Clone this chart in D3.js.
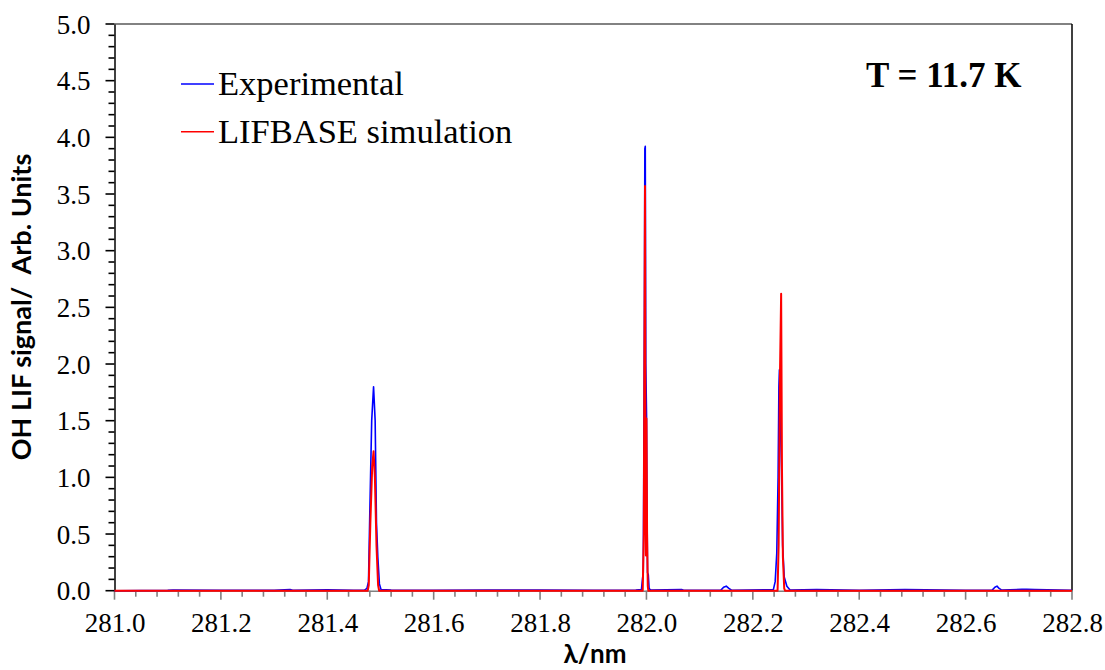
<!DOCTYPE html>
<html lang="en">
  <head>
    <meta charset="UTF-8" />
    <title>OH LIF spectrum</title>
    <script src="https://d3js.org/d3.v7.min.js"></script>
    <style>
      body {
        margin: 0;
        background-color: #fff;
      }

      svg {
        display: block;
      }

      .legend-text {
        font-family: "Liberation Serif", "Times New Roman", serif;
        font-size: 34.5px;
        fill: #000;
      }

      .temp-text {
        font-family: "Liberation Serif", "Times New Roman", serif;
        font-size: 35px;
        font-weight: bold;
        fill: #000;
      }

      .axis-title {
        font-family: Lato, "Open Sans", sans-serif;
        font-weight: bold;
        fill: #000;
        white-space: pre;
      }
    </style>
  </head>
  <body>
    <svg id="chart" width="1105" height="670"></svg>

    <script>
      // Experimental spectrum (wavelength in nm, signal)
      const expWl = [
        281.0, 281.1, 281.11, 281.2, 281.3, 281.33, 281.335, 281.4, 281.45,
        281.47, 281.4745, 281.4775, 281.48, 281.4835, 281.487, 281.49,
        281.4925, 281.495, 281.498, 281.501, 281.52, 281.6, 281.7, 281.8,
        281.9, 281.98, 281.9906, 281.9925, 281.994, 281.9948, 281.9962,
        281.997, 281.9978, 281.9988, 282.0002, 282.001, 282.002, 282.0035,
        282.005, 282.008, 282.066, 282.07, 282.14, 282.145, 282.15, 282.155,
        282.16, 282.2386, 282.242, 282.245, 282.2475, 282.249, 282.25,
        282.2518, 282.254, 282.256, 282.259, 282.264, 282.27, 282.32, 282.4,
        282.486, 282.6, 282.65, 282.655, 282.659, 282.663, 282.668, 282.706,
        282.715, 282.73, 282.8,
      ];
      const expSignal = [
        0, 0.003, 0.005, 0.004, 0.003, 0.01, 0.003, 0.008, 0.004, 0.005,
        0.02, 0.08, 0.7, 1.5, 1.8, 1.5, 0.6, 0.3, 0.06, 0.01, 0.005, 0.004,
        0.006, 0.005, 0.004, 0.005, 0.01, 0.1, 0.16, 0.9, 2.5, 3.9, 3.92, 2.0,
        1.54, 0.8, 0.16, 0.14, 0.02, 0.005, 0.01, 0.004, 0.005, 0.03, 0.04,
        0.02, 0.004, 0.01, 0.08, 0.33, 1.0, 1.8, 1.95, 1.5, 1.07, 0.4, 0.12,
        0.04, 0.006, 0.01, 0.004, 0.01, 0.004, 0.005, 0.03, 0.04, 0.02, 0.005,
        0.012, 0.012, 0.01, 0.004,
      ];

      // LIFBASE simulation
      const simWl = [
        281.0, 281.476, 281.478, 281.481, 281.4845, 281.487, 281.4895,
        281.4925, 281.4955, 281.4975, 281.993, 281.995, 281.9965, 281.9973,
        281.9982, 281.999, 282.0, 282.0012, 282.0025, 282.0035, 282.2465,
        282.2485, 282.251, 282.2532, 282.2548, 282.2565, 282.259, 282.2605,
        282.8,
      ];
      const simSignal = [
        0, 0, 0.05, 0.6, 1.1, 1.23, 1.0, 0.4, 0.05, 0, 0, 0.5, 2.5, 3.57, 1.0,
        0.31, 1.52, 0.5, 0.04, 0, 0, 0.4, 1.9, 2.62, 1.07, 0.3, 0.02, 0, 0,
      ];

      const xTicks = [281.0, 281.2, 281.4, 281.6, 281.8, 282.0, 282.2, 282.4, 282.6, 282.8];
      const yTicks = [0, 0.5, 1.0, 1.5, 2.0, 2.5, 3.0, 3.5, 4.0, 4.5, 5.0];

      const seriesNames = ["Experimental", "LIFBASE simulation"];
      const seriesColors = ["#0000ff", "#ff0000"];

      const plotLeft = 114.5,
        plotRight = 1072,
        plotTop = 24,
        plotBottom = 590.7;

      const svg = d3.select("#chart");

      const x = d3.scaleLinear().domain([281.0, 282.8]).range([plotLeft, plotRight]);
      const y = d3.scaleLinear().domain([0, 5]).range([plotBottom, plotTop]);

      // cadre : haut et droite
      svg
        .append("line")
        .attr("x1", plotLeft)
        .attr("x2", plotRight)
        .attr("y1", plotTop)
        .attr("y2", plotTop)
        .style("stroke", "#595959")
        .style("stroke-width", 1.5);
      svg
        .append("line")
        .attr("x1", plotRight)
        .attr("x2", plotRight)
        .attr("y1", plotTop)
        .attr("y2", plotBottom)
        .style("stroke", "#000")
        .style("stroke-width", 1.5);

      // graduations : mineures 0.04 (x) et 0.1 (y), majeures 0.2 et 0.5
      const xMinor = d3.range(0, 46).map((i) => 281.0 + i * 0.04);
      const yMinor = d3.range(0, 51).map((i) => i * 0.1);

      svg
        .selectAll(".xtick")
        .data(xMinor)
        .enter()
        .append("line")
        .attr("class", "xtick")
        .attr("x1", (d) => x(d))
        .attr("x2", (d) => x(d))
        .attr("y1", plotBottom)
        .attr("y2", (d, i) => plotBottom + (i % 5 === 0 ? 9 : 6))
        .style("stroke", "#808080")
        .style("stroke-width", 1.6);

      svg
        .selectAll(".ytick")
        .data(yMinor)
        .enter()
        .append("line")
        .attr("class", "ytick")
        .attr("x1", (d, i) => plotLeft - (i % 5 === 0 ? 9 : 6))
        .attr("x2", plotLeft)
        .attr("y1", (d) => y(d))
        .attr("y2", (d) => y(d))
        .style("stroke", "#000")
        .style("stroke-width", 1.6);

      // axes (domaine + étiquettes)
      const gx = svg
        .append("g")
        .attr("transform", `translate(0,${plotBottom})`)
        .call(
          d3
            .axisBottom(x)
            .tickValues(xTicks)
            .tickSize(0)
            .tickPadding(22)
            .tickFormat(d3.format(".1f"))
        );
      gx.select(".domain").style("stroke", "#808080").style("stroke-width", 1.5);
      gx.selectAll("text")
        .attr("dy", "0.71em")
        .style("font-family", "Liberation Serif")
        .style("font-size", "27px")
        .style("fill", "#000");

      const gy = svg
        .append("g")
        .attr("transform", `translate(${plotLeft},0)`)
        .call(
          d3
            .axisLeft(y)
            .tickValues(yTicks)
            .tickSize(0)
            .tickPadding(24)
            .tickFormat(d3.format(".1f"))
        );
      gy.select(".domain").style("stroke", "#000").style("stroke-width", 1.5);
      gy.selectAll("text")
        .attr("dy", "0.34em")
        .style("font-family", "Liberation Serif")
        .style("font-size", "27px")
        .style("fill", "#000");

      // courbes
      const lineGen = d3
        .line()
        .x((d) => x(d[0]))
        .y((d) => y(d[1]));

      const expData = expWl.map((w, i) => [w, expSignal[i]]);
      const simData = simWl.map((w, i) => [w, simSignal[i]]);

      svg
        .append("path")
        .datum(expData)
        .attr("d", lineGen)
        .style("fill", "none")
        .style("stroke", seriesColors[0])
        .style("stroke-width", 1.6)
        .style("stroke-linejoin", "round");

      svg
        .append("path")
        .datum(simData)
        .attr("d", lineGen)
        .style("fill", "none")
        .style("stroke", seriesColors[1])
        .style("stroke-width", 2)
        .style("stroke-linejoin", "round");

      // légende
      const legend = svg
        .selectAll(".legend-item")
        .data(seriesNames)
        .enter()
        .append("g")
        .attr("class", "legend-item")
        .attr("transform", (d, i) => `translate(181,${84 + i * 47.7})`);

      legend
        .append("line")
        .attr("x1", 0)
        .attr("x2", 33)
        .attr("y1", 0)
        .attr("y2", 0)
        .style("stroke", (d, i) => seriesColors[i])
        .style("stroke-width", 1.5);

      legend
        .append("text")
        .attr("class", "legend-text")
        .attr("x", 37)
        .attr("y", 11)
        .text((d) => d);

      svg
        .append("text")
        .attr("class", "temp-text")
        .attr("x", 866)
        .attr("y", 87)
        .text("T = 11.7 K");

      // titres des axes
      svg
        .append("text")
        .attr("class", "axis-title")
        .attr("x", 595)
        .attr("y", 663)
        .attr("text-anchor", "middle")
        .style("font-size", "26px")
        .text("λ/nm");

      svg
        .append("text")
        .attr("class", "axis-title")
        .attr("transform", `translate(31,307) rotate(-90)`)
        .attr("text-anchor", "middle")
        .style("font-size", "27px")
        .text("OH LIF signal/  Arb. Units");
    </script>
  </body>
</html>
